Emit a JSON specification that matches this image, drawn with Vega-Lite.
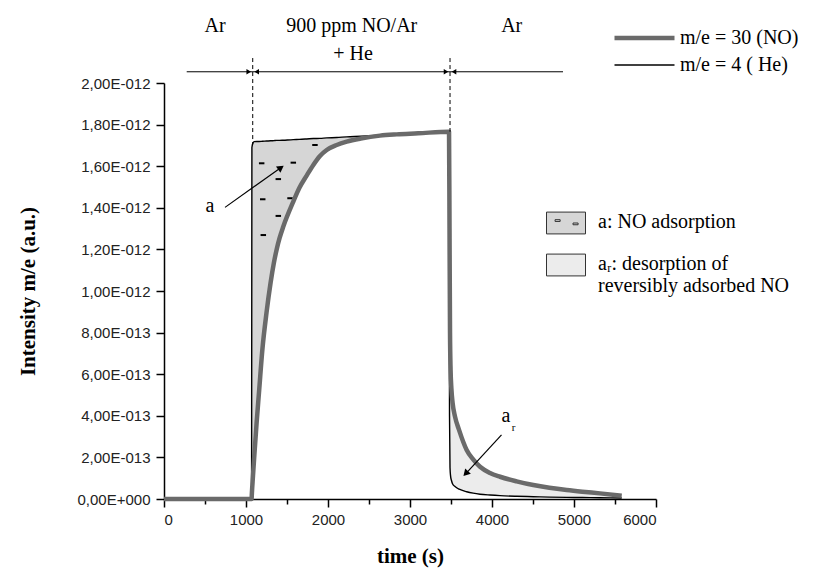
{
  "$schema": "https://vega.github.io/schema/vega-lite/v6.json",
  "width": 492,
  "height": 416,
  "autosize": "none",
  "padding": {"left": 164, "top": 83, "right": 161, "bottom": 77},
  "background": "white",
  "config": {"view": {"stroke": null}},
  "datasets": {
    "curves": [
      {"t": 0, "NO": 0, "He": 0},
      {"t": 500, "NO": 0, "He": 0},
      {"t": 1068, "NO": 0, "He": 0},
      {"t": 1072, "NO": 0.03e-12, "He": 1.690e-12},
      {"t": 1085, "NO": 0.11e-12, "He": 1.712e-12},
      {"t": 1100, "NO": 0.20e-12, "He": 1.718e-12},
      {"t": 1130, "NO": 0.37e-12, "He": 1.719e-12},
      {"t": 1160, "NO": 0.52e-12, "He": 1.719e-12},
      {"t": 1200, "NO": 0.72e-12, "He": 1.720e-12},
      {"t": 1250, "NO": 0.895e-12, "He": 1.721e-12},
      {"t": 1300, "NO": 1.04e-12, "He": 1.722e-12},
      {"t": 1340, "NO": 1.135e-12, "He": 1.723e-12},
      {"t": 1374, "NO": 1.20e-12, "He": 1.724e-12},
      {"t": 1410, "NO": 1.255e-12, "He": 1.724e-12},
      {"t": 1455, "NO": 1.31e-12, "He": 1.725e-12},
      {"t": 1577, "NO": 1.430e-12, "He": 1.728e-12},
      {"t": 1650, "NO": 1.495e-12, "He": 1.729e-12},
      {"t": 1740, "NO": 1.555e-12, "He": 1.731e-12},
      {"t": 1821, "NO": 1.606e-12, "He": 1.733e-12},
      {"t": 1902, "NO": 1.649e-12, "He": 1.734e-12},
      {"t": 1984, "NO": 1.678e-12, "He": 1.736e-12},
      {"t": 2106, "NO": 1.702e-12, "He": 1.738e-12},
      {"t": 2228, "NO": 1.718e-12, "He": 1.741e-12},
      {"t": 2400, "NO": 1.733e-12, "He": 1.744e-12},
      {"t": 2634, "NO": 1.747e-12, "He": 1.749e-12},
      {"t": 2838, "NO": 1.753e-12, "He": 1.753e-12},
      {"t": 3100, "NO": 1.758e-12, "He": 1.758e-12},
      {"t": 3476, "NO": 1.766e-12, "He": 1.766e-12},
      {"t": 3482, "NO": 1.30e-12, "He": 0.40e-12},
      {"t": 3488, "NO": 0.80e-12, "He": 0.15e-12},
      {"t": 3495, "NO": 0.62e-12, "He": 0.11e-12},
      {"t": 3505, "NO": 0.53e-12, "He": 0.09e-12},
      {"t": 3520, "NO": 0.46e-12, "He": 0.072e-12},
      {"t": 3549, "NO": 0.396e-12, "He": 0.060e-12},
      {"t": 3600, "NO": 0.33e-12, "He": 0.047e-12},
      {"t": 3691, "NO": 0.236e-12, "He": 0.035e-12},
      {"t": 3770, "NO": 0.19e-12, "He": 0.028e-12},
      {"t": 3854, "NO": 0.155e-12, "He": 0.023e-12},
      {"t": 3976, "NO": 0.125e-12, "He": 0.019e-12},
      {"t": 4098, "NO": 0.107e-12, "He": 0.016e-12},
      {"t": 4300, "NO": 0.085e-12, "He": 0.013e-12},
      {"t": 4504, "NO": 0.067e-12, "He": 0.011e-12},
      {"t": 4700, "NO": 0.054e-12, "He": 0.009e-12},
      {"t": 4911, "NO": 0.043e-12, "He": 0.008e-12},
      {"t": 5100, "NO": 0.035e-12, "He": 0.007e-12},
      {"t": 5317, "NO": 0.027e-12, "He": 0.006e-12},
      {"t": 5582, "NO": 0.016e-12, "He": 0.005e-12}
    ],
    "dashes": [
      {"t": 1841, "y": 1.702e-12},
      {"t": 1191, "y": 1.614e-12},
      {"t": 1577, "y": 1.617e-12},
      {"t": 1394, "y": 1.538e-12},
      {"t": 1204, "y": 1.441e-12},
      {"t": 1537, "y": 1.446e-12},
      {"t": 1394, "y": 1.361e-12},
      {"t": 1211, "y": 1.269e-12}
    ],
    "texts": [
      {"t": 622, "y": 2.243e-12, "label": "Ar"},
      {"t": 2289, "y": 2.243e-12, "label": "900 ppm NO/Ar"},
      {"t": 2305, "y": 2.111e-12, "label": "+ He"},
      {"t": 4240, "y": 2.243e-12, "label": "Ar"},
      {"t": 561, "y": 1.380e-12, "label": "a"},
      {"t": 4171, "y": 0.370e-12, "label": "a"}
    ],
    "subs": [
      {"t": 4262, "y": 0.327e-12, "label": "r"}
    ],
    "phase": [
      {"t": 277, "t2": 4866, "y": 2.054e-12}
    ],
    "switches": [
      {"t": 1082, "y": 2.12e-12, "y2": 1.705e-12, "ya": 2.054e-12},
      {"t": 3488, "y": 2.12e-12, "y2": 1.766e-12, "ya": 2.054e-12}
    ],
    "arrowA": [
      {"t": 744, "y": 1.402e-12, "t2": 1415, "y2": 1.590e-12}
    ],
    "arrowR": [
      {"t": 4116, "y": 0.308e-12, "t2": 3689, "y2": 0.126e-12}
    ]
  },
  "layer": [
    {
      "data": {"name": "curves"},
      "transform": [{"filter": "datum.t >= 1068 && datum.t <= 2838"}],
      "mark": {"type": "area", "clip": false, "interpolate": "monotone"},
      "encoding": {
        "x": {"field": "t", "type": "quantitative", "scale": {"domain": [0, 6000], "nice": false},
          "axis": {
            "title": "time (s)",
            "values": [0, 500, 1000, 1500, 2000, 2500, 3000, 3500, 4000, 4500, 5000, 5500, 6000],
            "format": "d",
            "labelExpr": "datum.value % 1000 == 0 ? datum.label : ''",
            "tickSize": {"condition": {"test": "datum.value % 1000 == 0", "value": 8}, "value": 5},
            "grid": false, "domainColor": "black", "domainWidth": 1.5, "tickColor": "black", "tickWidth": 1.5,
            "labelFont": "Liberation Sans", "labelFontSize": 15, "labelColor": "#222", "labelPadding": 5,
            "titleFont": "Liberation Serif", "titleFontSize": 21, "titleFontWeight": "bold", "titleColor": "black",
            "titleY": 57, "titleBaseline": "middle"
          }},
        "y": {"field": "He", "type": "quantitative", "scale": {"domain": [0, 2e-12], "nice": false, "zero": true},
          "axis": {
            "title": "Intensity m/e  (a.u.)",
            "values": [0, 1e-13, 2e-13, 3e-13, 4e-13, 5e-13, 6e-13, 7e-13, 8e-13, 9e-13, 1e-12, 1.1e-12, 1.2e-12, 1.3e-12, 1.4e-12, 1.5e-12, 1.6e-12, 1.7e-12, 1.8e-12, 1.9e-12, 2e-12],
            "labelExpr": "round(datum.value*1e13) % 2 != 0 ? '' : datum.value == 0 ? '0,00E+000' : datum.value > 0.95e-12 ? replace(format(datum.value*1e12, '.2f'), '.', ',') + 'E-012' : replace(format(datum.value*1e13, '.2f'), '.', ',') + 'E-013'",
            "tickSize": {"condition": {"test": "round(datum.value*1e13) % 2 == 0", "value": 8}, "value": 4},
            "grid": false, "domainColor": "black", "domainWidth": 1.5, "tickColor": "black", "tickWidth": 1.5,
            "labelFont": "Liberation Sans", "labelFontSize": 15, "labelColor": "#222", "labelPadding": 6,
            "titleFont": "Liberation Serif", "titleFontSize": 21, "titleFontWeight": "bold", "titleColor": "black",
            "titleX": -136, "titleY": 208, "titleBaseline": "middle", "titleAlign": "center"
          }},
        "y2": {"field": "NO"},
        "fill": {"datum": "a", "type": "nominal",
          "scale": {"domain": ["a", "ar"], "range": ["#d6d6d6", "#ececec"]},
          "legend": {
            "orient": "none", "legendX": 382, "legendY": 120, "title": null,
            "symbolType": "M-1,-0.56H1V0.56H-1Z", "symbolSize": 1521,
            "symbolStrokeColor": "#333", "symbolStrokeWidth": 1, "symbolOpacity": 1,
            "labelFont": "Liberation Serif", "labelFontSize": 20, "labelColor": "black",
            "labelLimit": 400, "labelOffset": 12, "rowPadding": 9, "labelBaseline": "top",
            "labelExpr": "datum.value == 'a' ? 'a: NO adsorption' : ['aᵣ: desorption of', 'reversibly adsorbed NO']",
            "encode": {
              "symbols": {"update": {"shape": {"signal": "datum.value == 'a' ? 'M-1,-0.56H1V0.56H-1Z M-0.56,-0.17H-0.3V-0.08H-0.56Z M0.36,0H0.62V0.09H0.36Z' : 'M-1,-0.56H1V0.56H-1Z'"}}},
              "labels": {"update": {"dy": {"value": -11}}}
            }
          }}
      }
    },
    {
      "data": {"name": "curves"},
      "transform": [{"filter": "datum.t >= 3476"}],
      "mark": {"type": "area", "clip": false, "interpolate": "monotone"},
      "encoding": {
        "x": {"field": "t", "type": "quantitative"},
        "y": {"field": "NO", "type": "quantitative"},
        "y2": {"field": "He"},
        "fill": {"datum": "ar", "type": "nominal"}
      }
    },
    {
      "data": {"name": "dashes"},
      "mark": {"type": "point", "shape": "stroke", "size": 30, "stroke": "black", "strokeWidth": 2, "opacity": 1},
      "encoding": {
        "x": {"field": "t", "type": "quantitative"},
        "y": {"field": "y", "type": "quantitative"}
      }
    },
    {
      "data": {"name": "curves"},
      "transform": [{"fold": ["He", "NO"], "as": ["series", "intensity"]}],
      "mark": {"type": "line", "clip": false, "strokeCap": "butt", "strokeJoin": "round", "interpolate": "monotone"},
      "encoding": {
        "x": {"field": "t", "type": "quantitative"},
        "y": {"field": "intensity", "type": "quantitative"},
        "stroke": {"field": "series", "type": "nominal",
          "scale": {"domain": ["NO", "He"], "range": ["#6a6a6a", "#000000"]},
          "legend": {
            "orient": "none", "legendX": 448, "legendY": -55, "title": null,
            "symbolType": "stroke", "symbolSize": 3600, "clipHeight": 20,
            "labelFont": "Liberation Serif", "labelFontSize": 20, "labelColor": "black", "labelOffset": 3,
            "labelLimit": 300, "rowPadding": 7,
            "labelExpr": "datum.value == 'NO' ? 'm/e = 30 (NO)' : 'm/e = 4 ( He)'"
          }},
        "strokeWidth": {"field": "series", "type": "nominal",
          "scale": {"domain": ["NO", "He"], "range": [4.5, 1.4]},
          "legend": {
            "orient": "none", "legendX": 448, "legendY": -55, "title": null,
            "symbolType": "stroke", "symbolSize": 3600, "clipHeight": 20,
            "labelFont": "Liberation Serif", "labelFontSize": 20, "labelColor": "black", "labelOffset": 3,
            "labelLimit": 300, "rowPadding": 7,
            "labelExpr": "datum.value == 'NO' ? 'm/e = 30 (NO)' : 'm/e = 4 ( He)'"
          }}
      }
    },
    {
      "data": {"name": "phase"},
      "mark": {"type": "rule", "color": "black", "strokeWidth": 1},
      "encoding": {
        "x": {"field": "t", "type": "quantitative"},
        "x2": {"field": "t2"},
        "y": {"field": "y", "type": "quantitative"}
      }
    },
    {
      "data": {"name": "switches"},
      "mark": {"type": "rule", "color": "black", "strokeWidth": 1, "strokeDash": [4, 3]},
      "encoding": {
        "x": {"field": "t", "type": "quantitative"},
        "y": {"field": "y", "type": "quantitative"},
        "y2": {"field": "y2"}
      }
    },
    {
      "data": {"name": "switches"},
      "mark": {"type": "point", "shape": "triangle-right", "size": 28, "filled": true, "color": "black", "opacity": 1, "xOffset": -4},
      "encoding": {
        "x": {"field": "t", "type": "quantitative"},
        "y": {"field": "ya", "type": "quantitative"}
      }
    },
    {
      "data": {"name": "switches"},
      "mark": {"type": "point", "shape": "triangle-left", "size": 28, "filled": true, "color": "black", "opacity": 1, "xOffset": 4},
      "encoding": {
        "x": {"field": "t", "type": "quantitative"},
        "y": {"field": "ya", "type": "quantitative"}
      }
    },
    {
      "data": {"name": "arrowA"},
      "mark": {"type": "rule", "color": "black", "strokeWidth": 1.2},
      "encoding": {
        "x": {"field": "t", "type": "quantitative"},
        "y": {"field": "y", "type": "quantitative"},
        "x2": {"field": "t2"},
        "y2": {"field": "y2"}
      }
    },
    {
      "data": {"name": "arrowA"},
      "mark": {"type": "point", "shape": "triangle", "size": 60, "filled": true, "color": "black", "opacity": 1, "angle": 55},
      "encoding": {
        "x": {"field": "t2", "type": "quantitative"},
        "y": {"field": "y2", "type": "quantitative"}
      }
    },
    {
      "data": {"name": "arrowR"},
      "mark": {"type": "rule", "color": "black", "strokeWidth": 1.2},
      "encoding": {
        "x": {"field": "t", "type": "quantitative"},
        "y": {"field": "y", "type": "quantitative"},
        "x2": {"field": "t2"},
        "y2": {"field": "y2"}
      }
    },
    {
      "data": {"name": "arrowR"},
      "mark": {"type": "point", "shape": "triangle", "size": 60, "filled": true, "color": "black", "opacity": 1, "angle": 223},
      "encoding": {
        "x": {"field": "t2", "type": "quantitative"},
        "y": {"field": "y2", "type": "quantitative"}
      }
    },
    {
      "data": {"name": "texts"},
      "mark": {"type": "text", "font": "Liberation Serif", "fontSize": 20, "fill": "black", "align": "center", "baseline": "alphabetic"},
      "encoding": {
        "x": {"field": "t", "type": "quantitative"},
        "y": {"field": "y", "type": "quantitative"},
        "text": {"field": "label"}
      }
    },
    {
      "data": {"name": "subs"},
      "mark": {"type": "text", "font": "Liberation Serif", "fontSize": 11, "fill": "black", "align": "center", "baseline": "alphabetic"},
      "encoding": {
        "x": {"field": "t", "type": "quantitative"},
        "y": {"field": "y", "type": "quantitative"},
        "text": {"field": "label"}
      }
    }
  ]
}
